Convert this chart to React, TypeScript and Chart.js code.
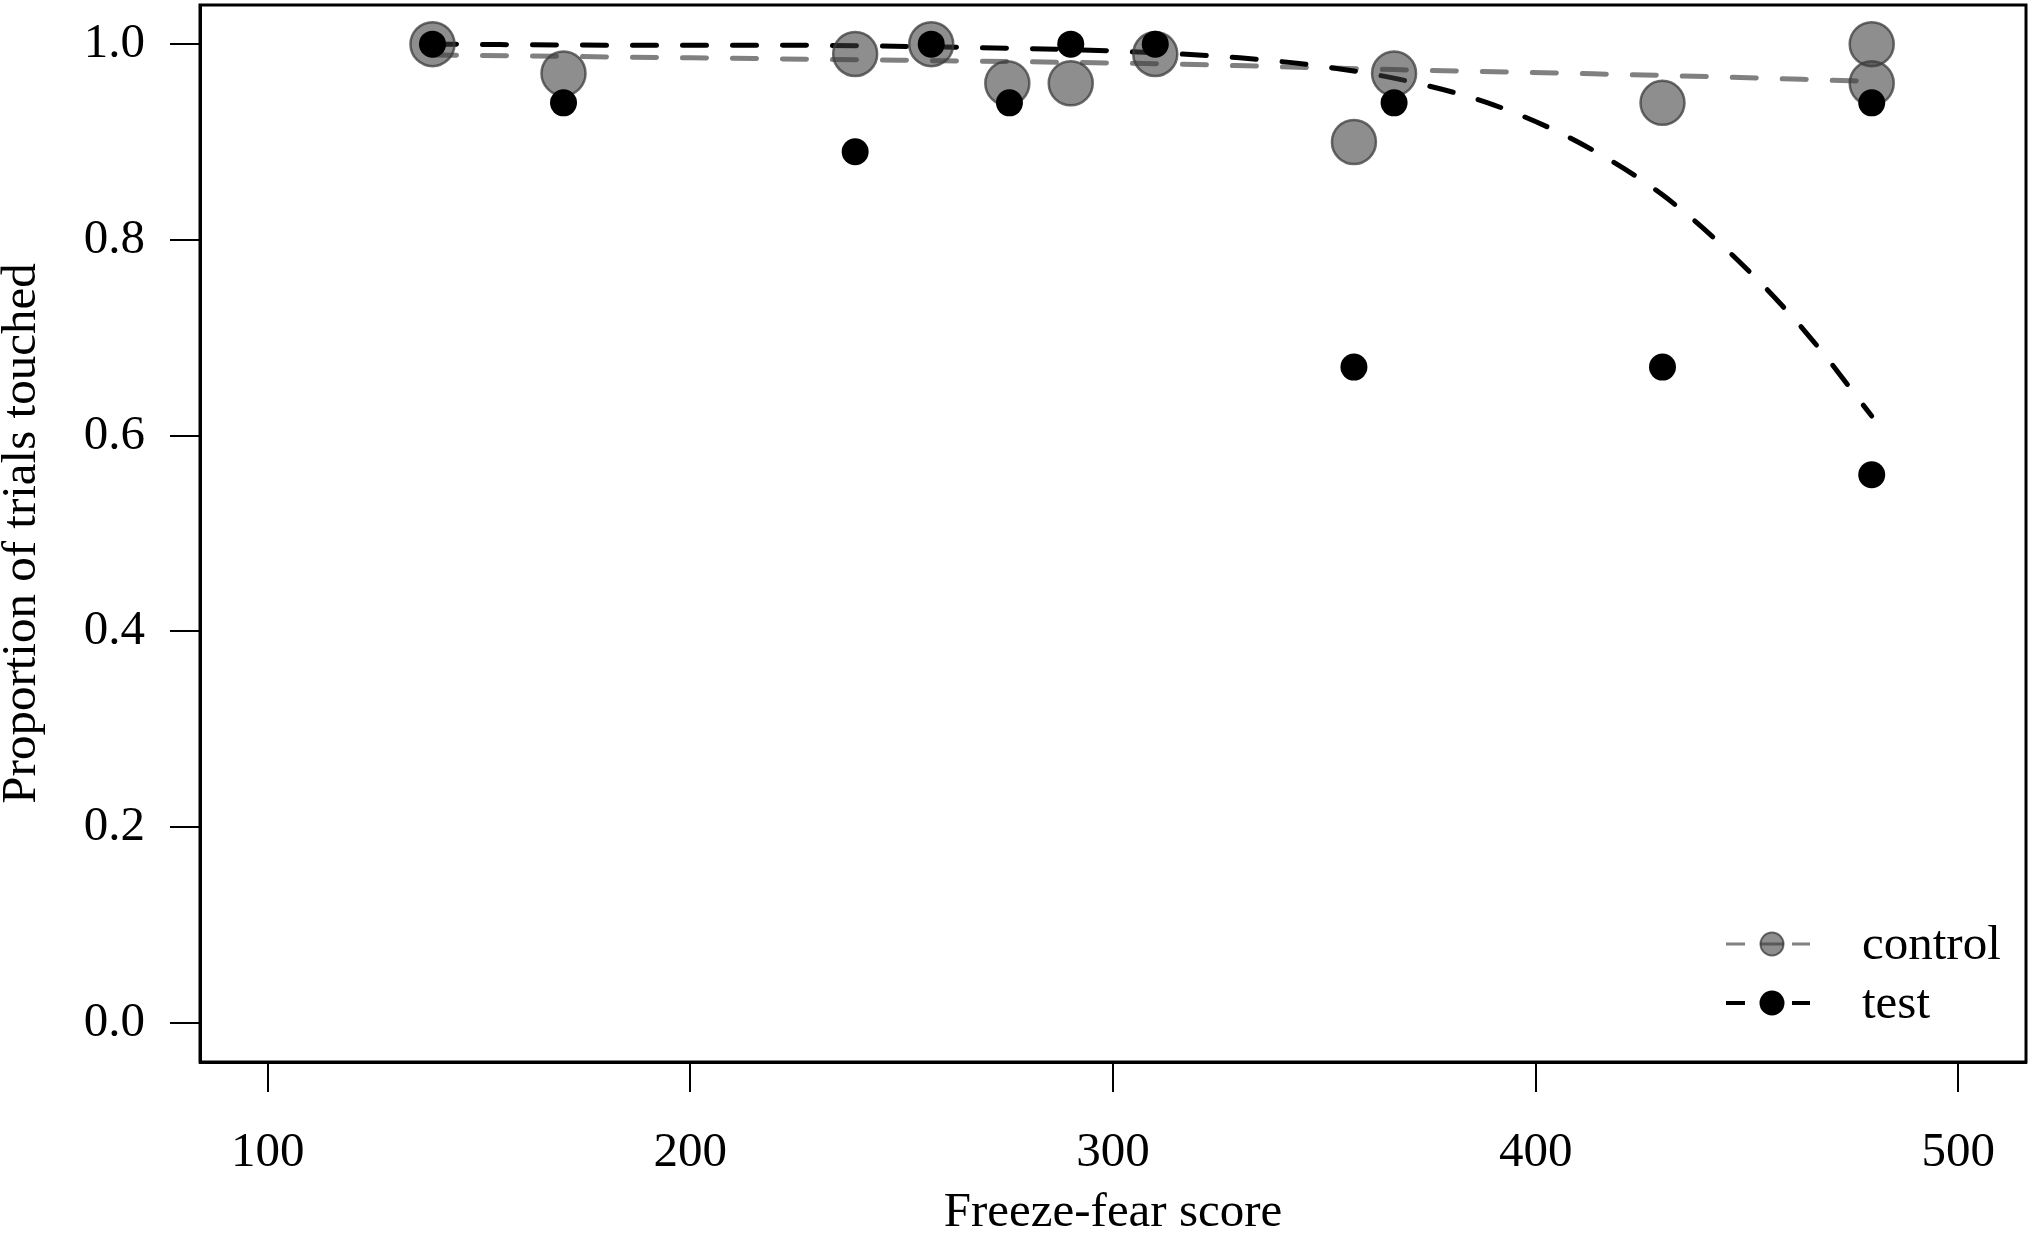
import React, { useEffect, useRef } from 'react';
import { Chart, registerables } from 'chart.js';

Chart.register(...registerables);

// Observed points
const controlX = [139, 170, 239, 257, 275, 290, 310, 357, 366.5, 430, 479.5, 479.5];
const controlY = [1.0, 0.97, 0.99, 1.0, 0.96, 0.96, 0.99, 0.9, 0.97, 0.94, 1.0, 0.96];
const testX = [139, 170, 239, 257, 275.5, 290, 310, 357, 366.5, 430, 479.5, 479.5];
const testY = [1.0, 0.94, 0.89, 1.0, 0.94, 1.0, 1.0, 0.67, 0.94, 0.67, 0.94, 0.56];

// Fitted curves
const controlFitX = [139, 200, 260, 310, 366.5, 430, 479.5];
const controlFitY = [0.989, 0.986, 0.983, 0.98, 0.974, 0.968, 0.962];
const testFitX = [139, 180, 220, 260, 300, 330, 350, 370, 390, 410, 430, 450, 465, 479.5];
const testFitY = [1.0, 0.999, 0.999, 0.997, 0.993, 0.986, 0.977, 0.962, 0.938, 0.9, 0.846, 0.77, 0.7, 0.62];

const xTicks = [100, 200, 300, 400, 500];
const yTicks = [0, 0.2, 0.4, 0.6, 0.8, 1.0];
const xRange = [84, 516];
const yRange = [-0.04, 1.04];

const seriesNames = ['control', 'test'];
const xTitle = 'Freeze-fear score';
const yTitle = 'Proportion of trials touched';

const FONT = "'Liberation Serif', 'Times New Roman', serif";
const GRAY_FILL = 'rgba(60,60,60,0.58)';
const GRAY_EDGE = 'rgba(60,60,60,0.75)';
const GRAY_LINE = 'rgb(128,128,128)';

const zip = (xs: number[], ys: number[]) => xs.map((x, i) => ({ x, y: ys[i] }));

const zeroPad = (s: any) => {
  s.paddingTop = 0;
  s.paddingBottom = 0;
  s.paddingLeft = 0;
  s.paddingRight = 0;
};

const framePlugin = {
  id: 'frameAndLegend',
  afterDatasetsDraw(chart: any) {
    const { ctx, chartArea } = chart;
    ctx.save();
    ctx.strokeStyle = '#000';
    ctx.lineWidth = 3;
    ctx.strokeRect(chartArea.left, chartArea.top, chartArea.right - chartArea.left, chartArea.bottom - chartArea.top);

    // legend
    const cx = chartArea.right - 254;
    const textX = chartArea.right - 164;
    const rows = [
      { y: chartArea.bottom - 118, line: GRAY_LINE, fill: GRAY_FILL, edge: GRAY_EDGE, lw: 3, label: seriesNames[0] },
      { y: chartArea.bottom - 59, line: '#000', fill: '#000', edge: '#000', lw: 4, label: seriesNames[1] },
    ];
    rows.forEach((r) => {
      ctx.strokeStyle = r.line;
      ctx.lineWidth = r.lw;
      ctx.lineCap = 'butt';
      ctx.beginPath();
      ctx.moveTo(cx - 46, r.y);
      ctx.lineTo(cx - 27, r.y);
      ctx.moveTo(cx - 12, r.y);
      ctx.lineTo(cx + 12, r.y);
      ctx.moveTo(cx + 20, r.y);
      ctx.lineTo(cx + 38, r.y);
      ctx.stroke();
      ctx.beginPath();
      ctx.arc(cx, r.y, 11.5, 0, Math.PI * 2);
      ctx.fillStyle = r.fill;
      ctx.fill();
      ctx.lineWidth = 2;
      ctx.strokeStyle = r.edge;
      ctx.stroke();
      ctx.fillStyle = '#000';
      ctx.font = `49px ${FONT}`;
      ctx.textAlign = 'left';
      ctx.textBaseline = 'middle';
      ctx.fillText(r.label, textX, r.y + 2);
    });
    ctx.restore();
  },
};

export default function App() {
  const ref = useRef<HTMLCanvasElement | null>(null);

  useEffect(() => {
    document.body.style.margin = '0';
    const canvas = ref.current;
    if (!canvas) return;
    const chart = new Chart(canvas, {
      type: 'scatter',
      data: {
        datasets: [
          {
            label: 'test',
            data: zip(testX, testY),
            showLine: false,
            pointRadius: 13.5,
            pointBackgroundColor: '#000',
            pointBorderColor: '#000',
            pointBorderWidth: 0,
            order: 0,
          },
          {
            label: 'control',
            data: zip(controlX, controlY),
            showLine: false,
            pointRadius: 22,
            pointBackgroundColor: GRAY_FILL,
            pointBorderColor: GRAY_EDGE,
            pointBorderWidth: 2.5,
            order: 1,
          },
          {
            label: 'test fit',
            data: zip(testFitX, testFitY),
            showLine: true,
            pointRadius: 0,
            borderColor: '#000',
            borderWidth: 5,
            borderDash: [24, 26],
            borderCapStyle: 'round',
            cubicInterpolationMode: 'monotone',
            fill: false,
            order: 2,
          } as any,
          {
            label: 'control fit',
            data: zip(controlFitX, controlFitY),
            showLine: true,
            pointRadius: 0,
            borderColor: GRAY_LINE,
            borderWidth: 5,
            borderDash: [24, 26],
            borderCapStyle: 'round',
            cubicInterpolationMode: 'monotone',
            fill: false,
            order: 3,
          } as any,
        ],
      },
      options: {
        animation: false,
        responsive: false,
        devicePixelRatio: 1,
        events: [],
        layout: { autoPadding: false, padding: { top: 5, right: 6, left: 0, bottom: 0 } },
        plugins: { legend: { display: false }, tooltip: { enabled: false } },
        scales: {
          x: {
            type: 'linear',
            min: xRange[0],
            max: xRange[1],
            afterBuildTicks: (s: any) => {
              s.ticks = xTicks.map((v) => ({ value: v }));
            },
            afterFit: (s: any) => {
              s.height = 173;
              zeroPad(s);
            },
            grid: { drawOnChartArea: false, drawTicks: true, tickLength: 30, color: '#000', lineWidth: 2 },
            border: { display: true, color: '#000', width: 3 },
            ticks: {
              autoSkip: false,
              maxRotation: 0,
              padding: 32,
              color: '#000',
              font: { family: FONT, size: 49 },
              callback: (v: any) => String(v),
            },
            title: {
              display: true,
              text: xTitle,
              color: '#000',
              font: { family: FONT, size: 49, lineHeight: 0.88 },
              padding: 0,
            },
          },
          y: {
            type: 'linear',
            min: yRange[0],
            max: yRange[1],
            afterBuildTicks: (s: any) => {
              s.ticks = yTicks.map((v) => ({ value: v }));
            },
            afterFit: (s: any) => {
              s.width = 200;
              zeroPad(s);
            },
            grid: { drawOnChartArea: false, drawTicks: true, tickLength: 30, color: '#000', lineWidth: 2 },
            border: { display: true, color: '#000', width: 3 },
            ticks: {
              autoSkip: false,
              padding: 25,
              color: '#000',
              font: { family: FONT, size: 49 },
              callback: (v: any) => Number(v).toFixed(1),
            },
            title: {
              display: true,
              text: yTitle,
              color: '#000',
              font: { family: FONT, size: 49, lineHeight: 0.9 },
              padding: 0,
            },
          },
        },
      },
      plugins: [framePlugin],
    } as any);
    return () => chart.destroy();
  }, []);

  return <canvas ref={ref} width={2032} height={1235} style={{ display: 'block' }} />;
}
